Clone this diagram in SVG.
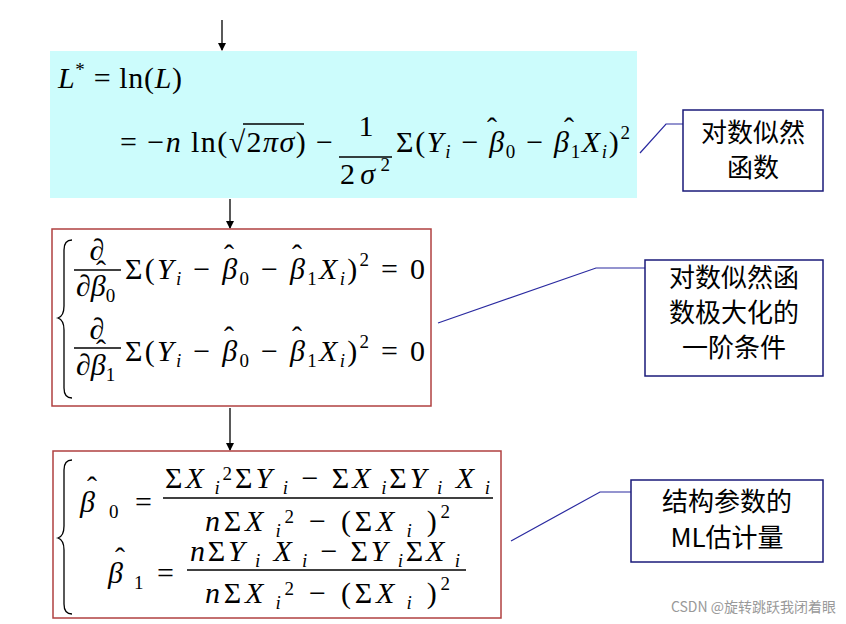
<svg xmlns="http://www.w3.org/2000/svg" width="846" height="624" viewBox="0 0 846 624">
<style>
.m{font-family:"Liberation Serif",serif;font-size:30px;fill:#000}
.h{font-family:"Liberation Serif",serif;font-size:30px;fill:#000;text-anchor:middle}
.i{font-style:italic}
.s{font-size:19px}
.cn{font-family:"Noto Sans CJK SC",sans-serif;font-size:26px;fill:#000;text-anchor:middle}
.lab{fill:#fff;stroke:#1a1a7a;stroke-width:1.5}
.red{fill:#fff;stroke:#b04040;stroke-width:1.5}
.bl{stroke:#2a2aa0;stroke-width:1.2;fill:none}
.ar{stroke:#000;stroke-width:1.3;marker-end:url(#a)}
.br{stroke:#000;stroke-width:1.3;fill:none}
</style>
<defs><marker id="a" markerWidth="8" markerHeight="8" refX="7" refY="4" orient="auto" markerUnits="userSpaceOnUse"><path d="M0,0L8,4L0,8z" fill="#000"/></marker></defs>
<rect width="846" height="624" fill="#fff"/>
<g id="connectors">
<line class="ar" x1="222" y1="20" x2="222" y2="50"/>
<line class="ar" x1="230" y1="199" x2="230" y2="228"/>
<line class="ar" x1="230" y1="408" x2="230" y2="450"/>
<polyline class="bl" points="640,153 666,124 683,124"/>
<polyline class="bl" points="438,323 596,268 645,268"/>
<polyline class="bl" points="511,541 600,492 631,492"/>
</g>
<g id="loglik">
<rect x="50" y="51" width="587" height="147" fill="#ccfcfc"/>
<text class="m" x="58" y="88" textLength="124"><tspan class="i">L</tspan><tspan class="s" dy="-12">*</tspan><tspan dy="12"> = ln(</tspan><tspan class="i">L</tspan>)</text>
<text class="m" x="120" y="152" textLength="213">= −<tspan class="i">n</tspan> ln(√2<tspan class="i">πσ</tspan>) −</text>
<line x1="243" y1="124" x2="304" y2="124" stroke="#000" stroke-width="1.4"/>
<line x1="339" y1="157" x2="392" y2="157" stroke="#000" stroke-width="1.4"/>
<text class="m" x="366" y="136" text-anchor="middle">1</text>
<text class="m" x="340" y="184" textLength="50">2<tspan class="i">σ</tspan><tspan class="s" dy="-13">2</tspan></text>
<text class="m" x="396" y="152" textLength="234">Σ(<tspan class="i">Y</tspan><tspan class="s i" dy="6">i</tspan><tspan dy="-6"> − </tspan><tspan class="i">β</tspan><tspan class="s" dy="6">0</tspan><tspan dy="-6"> − </tspan><tspan class="i">β</tspan><tspan class="s" dy="6">1</tspan><tspan class="i" dy="-6">X</tspan><tspan class="s i" dy="6">i</tspan><tspan dy="-6">)</tspan><tspan class="s" dy="-13">2</tspan></text>
<text class="h" x="492" y="138">ˆ</text><text class="h" x="569" y="138">ˆ</text>
</g>
<g id="foc">
<rect class="red" x="52" y="229" width="379" height="177"/>
<path class="br" d="M72,240 Q64,240 64,250 L64,306 Q64,316 58,318 Q64,320 64,330 L64,388 Q64,398 72,398"/>
<text class="m i" x="97" y="260" text-anchor="middle">∂</text>
<line x1="74" y1="270" x2="121" y2="270" stroke="#000" stroke-width="1.4"/>
<text class="m" x="76" y="296"><tspan class="i">∂β</tspan><tspan class="s" dy="6">0</tspan></text>
<text class="h" x="101" y="281">ˆ</text>
<text class="m" x="125" y="279" textLength="300">Σ(<tspan class="i">Y</tspan><tspan class="s i" dy="6">i</tspan><tspan dy="-6"> − </tspan><tspan class="i">β</tspan><tspan class="s" dy="6">0</tspan><tspan dy="-6"> − </tspan><tspan class="i">β</tspan><tspan class="s" dy="6">1</tspan><tspan class="i" dy="-6">X</tspan><tspan class="s i" dy="6">i</tspan><tspan dy="-6">)</tspan><tspan class="s" dy="-13">2</tspan><tspan dy="13"> = 0</tspan></text>
<text class="h" x="229" y="265">ˆ</text><text class="h" x="297" y="265">ˆ</text>
<text class="m i" x="97" y="339" text-anchor="middle">∂</text>
<line x1="74" y1="348" x2="121" y2="348" stroke="#000" stroke-width="1.4"/>
<text class="m" x="76" y="375"><tspan class="i">∂β</tspan><tspan class="s" dy="6">1</tspan></text>
<text class="h" x="101" y="360">ˆ</text>
<text class="m" x="125" y="361" textLength="300">Σ(<tspan class="i">Y</tspan><tspan class="s i" dy="6">i</tspan><tspan dy="-6"> − </tspan><tspan class="i">β</tspan><tspan class="s" dy="6">0</tspan><tspan dy="-6"> − </tspan><tspan class="i">β</tspan><tspan class="s" dy="6">1</tspan><tspan class="i" dy="-6">X</tspan><tspan class="s i" dy="6">i</tspan><tspan dy="-6">)</tspan><tspan class="s" dy="-13">2</tspan><tspan dy="13"> = 0</tspan></text>
<text class="h" x="229" y="347">ˆ</text><text class="h" x="297" y="347">ˆ</text>
</g>
<g id="mle">
<rect class="red" x="53" y="451" width="448" height="167"/>
<path class="br" d="M72,460 Q64,460 64,470 L64,526 Q64,536 58,538 Q64,540 64,550 L64,604 Q64,614 72,614"/>
<text class="m" x="80" y="512" textLength="72"><tspan class="i">β</tspan><tspan class="s" dy="6"> 0</tspan><tspan dy="-6">  =</tspan></text>
<text class="h" x="92" y="497">ˆ</text>
<text class="m" x="165" y="488" textLength="325">Σ<tspan class="i">X</tspan><tspan class="s i" dy="6"> i</tspan><tspan class="s" dy="-14">2</tspan><tspan dy="8">Σ</tspan><tspan class="i">Y</tspan><tspan class="s i" dy="6"> i</tspan><tspan dy="-6"> − Σ</tspan><tspan class="i">X</tspan><tspan class="s i" dy="6"> i</tspan><tspan dy="-6">Σ</tspan><tspan class="i">Y</tspan><tspan class="s i" dy="6"> i</tspan><tspan class="i" dy="-6"> X</tspan><tspan class="s i" dy="6">  i</tspan></text>
<line x1="163" y1="498" x2="493" y2="498" stroke="#000" stroke-width="1.4"/>
<text class="m" x="205" y="531" textLength="245"><tspan class="i">n</tspan>Σ<tspan class="i">X</tspan><tspan class="s i" dy="6"> i</tspan><tspan class="s" dy="-14">2</tspan><tspan dy="8"> − (Σ</tspan><tspan class="i">X</tspan><tspan class="s i" dy="6"> i</tspan><tspan dy="-6"> )</tspan><tspan class="s" dy="-13">2</tspan></text>
<text class="m" x="108" y="583" textLength="66"><tspan class="i">β</tspan><tspan class="s" dy="6"> 1</tspan><tspan dy="-6">  =</tspan></text>
<text class="h" x="120" y="568">ˆ</text>
<text class="m" x="190" y="561" textLength="270"><tspan class="i">n</tspan>Σ<tspan class="i">Y</tspan><tspan class="s i" dy="6"> i</tspan><tspan class="i" dy="-6"> X</tspan><tspan class="s i" dy="6"> i</tspan><tspan dy="-6"> − Σ</tspan><tspan class="i">Y</tspan><tspan class="s i" dy="6"> i</tspan><tspan dy="-6">Σ</tspan><tspan class="i">X</tspan><tspan class="s i" dy="6">  i</tspan></text>
<line x1="187" y1="570" x2="466" y2="570" stroke="#000" stroke-width="1.4"/>
<text class="m" x="205" y="603" textLength="245"><tspan class="i">n</tspan>Σ<tspan class="i">X</tspan><tspan class="s i" dy="6"> i</tspan><tspan class="s" dy="-14">2</tspan><tspan dy="8"> − (Σ</tspan><tspan class="i">X</tspan><tspan class="s i" dy="6"> i</tspan><tspan dy="-6"> )</tspan><tspan class="s" dy="-13">2</tspan></text>
</g>
<g id="lab1"><rect class="lab" x="683" y="110" width="140" height="81"/><text class="cn" x="753" y="142">对数似然</text><text class="cn" x="753" y="177">函数</text></g>
<g id="lab2"><rect class="lab" x="645" y="260" width="178" height="116"/><text class="cn" x="734" y="287">对数似然函</text><text class="cn" x="734" y="322">数极大化的</text><text class="cn" x="734" y="357">一阶条件</text></g>
<g id="lab3"><rect class="lab" x="631" y="480" width="192" height="82"/><text class="cn" x="727" y="511">结构参数的</text><text class="cn" x="727" y="547">ML估计量</text></g>
<text x="836" y="612" text-anchor="end" font-family="Noto Sans CJK SC,sans-serif" font-size="14" fill="#999">CSDN @旋转跳跃我闭着眼</text>
</svg>
